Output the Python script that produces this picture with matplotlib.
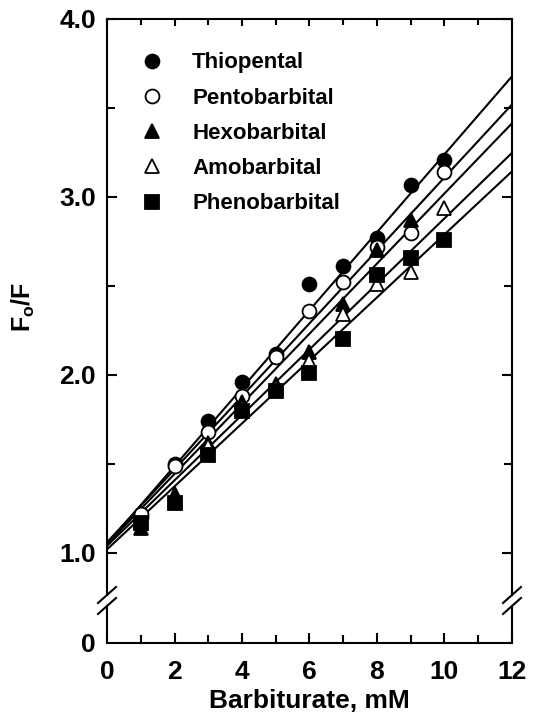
import numpy as np
import matplotlib
matplotlib.use("Agg")
import matplotlib.pyplot as plt
from matplotlib.lines import Line2D

plt.rcParams['font.family'] = ['Liberation Sans', 'DejaVu Sans']
plt.rcParams['font.weight'] = 'bold'
plt.rcParams['mathtext.fontset'] = 'custom'
plt.rcParams['mathtext.bf'] = 'Liberation Sans:bold'
plt.rcParams['mathtext.rm'] = 'Liberation Sans:bold'

# ---- data ----
conc = [1, 2, 3, 4, 5, 6, 7, 8, 9, 10]
names = ["Thiopental", "Pentobarbital", "Hexobarbital", "Amobarbital", "Phenobarbital"]
thiopental = [1.20, 1.50, 1.74, 1.96, 2.12, 2.51, 2.61, 2.77, 3.07, 3.21]
pentobarbital = [1.22, 1.49, 1.68, 1.88, 2.10, 2.36, 2.52, 2.72, 2.80, 3.14]
hexobarbital = [1.14, 1.33, 1.62, 1.85, 1.95, 2.13, 2.40, 2.70, 2.87, np.nan]
amobarbital = [1.17, 1.30, 1.60, 1.82, 1.93, 2.08, 2.34, 2.51, 2.58, 2.94]
phenobarbital = [1.17, 1.28, 1.55, 1.80, 1.91, 2.01, 2.20, 2.56, 2.66, 2.76]
# fitted lines: intercept and slope
fit_intercept = [1.05, 1.06, 1.05, 1.04, 1.02]
fit_slope = [0.219, 0.205, 0.197, 0.184, 0.177]
x_ticks = [0, 2, 4, 6, 8, 10, 12]
y_ticks = [1.0, 2.0, 3.0, 4.0]
y_tick_labels = ["1.0", "2.0", "3.0", "4.0"]

series = [thiopental, pentobarbital, hexobarbital, amobarbital, phenobarbital]
markers = ['o', 'o', '^', '^', 's']
faces = ['black', 'white', 'black', 'white', 'black']
msizes = [10, 10, 10, 10, 9.5]

W, H = 535, 714
fig = plt.figure(figsize=(W / 100, H / 100), dpi=100)
xl, xr = 107, 512
ytop, ybrk_hi, ybrk_lo, ybot = 19, 595, 606, 643
ax = fig.add_axes([xl / W, 1 - ybrk_hi / H, (xr - xl) / W, (ybrk_hi - ytop) / H])
axb = fig.add_axes([xl / W, 1 - ybot / H, (xr - xl) / W, (ybot - ybrk_lo) / H])

lw = 1.5
for a in (ax, axb):
    for s in a.spines.values():
        s.set_linewidth(lw)
    a.set_xlim(0, 12)

# upper axes
ax.set_ylim(0.764, 4.0)
ax.spines['bottom'].set_visible(False)
ax.set_yticks(y_ticks)
ax.set_yticklabels(y_tick_labels)
ax.set_yticks([1.5, 2.5, 3.5], minor=True)
ax.set_xticks(x_ticks)
ax.set_xticks([1, 3, 5, 7, 9, 11], minor=True)
ax.tick_params(axis='x', which='both', bottom=False, top=True, labelbottom=False,
               direction='in', width=lw)
ax.tick_params(axis='x', which='major', length=5)
ax.tick_params(axis='x', which='minor', length=4)
ax.tick_params(axis='y', which='both', left=True, right=True, direction='in', width=lw,
               labelsize=19, pad=8)
ax.tick_params(axis='y', which='major', length=7)
ax.tick_params(axis='y', which='minor', length=6)

# lower axes
axb.set_ylim(0, 0.2)
axb.spines['top'].set_visible(False)
axb.set_yticks([0])
axb.set_yticklabels(["0"])
axb.tick_params(axis='y', which='both', left=True, right=False, length=0, labelsize=19, pad=8)
axb.set_xticks(x_ticks)
axb.set_xticks([1, 3, 5, 7, 9, 11], minor=True)
axb.tick_params(axis='x', which='both', direction='in', width=lw, labelsize=19, pad=12)
axb.tick_params(axis='x', which='major', length=7)
axb.tick_params(axis='x', which='minor', length=6)
axb.set_xlabel("Barbiturate, mM", fontsize=19, fontweight='bold', labelpad=4)

# regression lines
xx = np.array([0, 12])
for b, m in zip(fit_intercept, fit_slope):
    ax.plot(xx, b + m * xx, color='black', lw=1.5, zorder=2)

# data points
for ys, name, mk, fc, ms in zip(series, names, markers, faces, msizes):
    ax.plot(conc, ys, linestyle='none', marker=mk, markersize=ms, markerfacecolor=fc,
            markeredgecolor='black', markeredgewidth=1.3, label=name, zorder=3)

leg = ax.legend(loc='upper left', bbox_to_anchor=(0.084, 0.942), frameon=False,
                fontsize=16, handlelength=1.0, handletextpad=1.3, labelspacing=0.64,
                borderpad=0, borderaxespad=0, numpoints=1)

ax.set_ylabel(r"$\mathbf{F_o/F}$", fontsize=18, labelpad=16)

# break marks
for xs in (xl, xr):
    for yb in (ybrk_hi, ybrk_lo):
        fig.add_artist(Line2D([(xs - 9) / W, (xs + 9) / W],
                              [1 - (yb + 8) / H, 1 - (yb - 8) / H],
                              color='black', lw=1.5, transform=fig.transFigure))

fig.savefig("out.png", dpi=100)
